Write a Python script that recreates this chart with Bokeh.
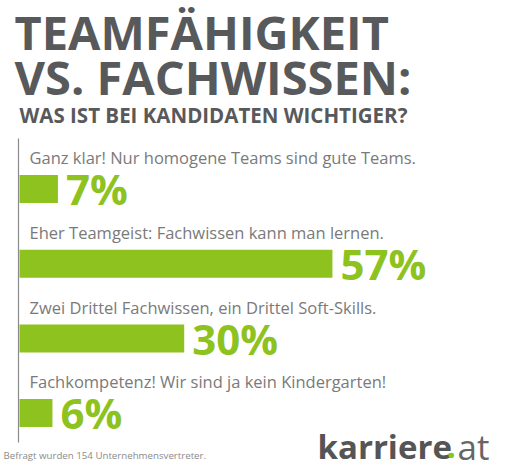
from bokeh.plotting import figure
from bokeh.models import Range1d, ColumnDataSource
from bokeh.core.properties import value
from bokeh.embed import file_html
from bokeh.resources import INLINE

# ---- data ----
answers = [
    "Ganz klar! Nur homogene Teams sind gute Teams.",
    "Eher Teamgeist: Fachwissen kann man lernen.",
    "Zwei Drittel Fachwissen, ein Drittel Soft-Skills.",
    "Fachkompetenz! Wir sind ja kein Kindergarten!",
]
shares = [7, 57, 30, 6]
title_lines = ["TEAMFÄHIGKEIT", "VS. FACHWISSEN:"]
subtitle = "WAS IST BEI KANDIDATEN WICHTIGER?"
footnote = "Befragt wurden 154 Unternehmensvertreter."

# ---- layout ----
W, H = 512, 475
X0 = 19.0          # pixel where 0 % sits
PX_PER_PCT = 5.49  # pixels per percent
K = 0.35           # baseline correction (fraction of font size)


def xd(px):
    return (px - X0) / PX_PER_PCT


def yb(baseline, size):
    return baseline - K * size


GREEN = "#8dc21f"
DARK = "#58595b"
LIGHT = "#7a7a7a"
FONT = value("Open Sans")

p = figure(width=W, height=H, output_backend="svg", toolbar_location=None,
           x_range=Range1d(xd(0), xd(W)), y_range=Range1d(H, 0),
           min_border=0, outline_line_color=None)
p.axis.visible = False
p.grid.visible = False
p.background_fill_color = "white"
p.border_fill_color = "white"

n = len(shares)
centers = [188.5 + 74.7 * i for i in range(n)]
LS, PS = 16.5, 42
label_y = [yb(c - 25.5, LS) for c in centers]
pct_y = [yb(c + 14.5, PS) for c in centers]

src = ColumnDataSource(dict(
    y=centers, v=shares, ly=label_y, py=pct_y,
    label=answers, pct=[f"{s}%" for s in shares],
    lx=[xd(29)] * n,
    px=[s + xd(X0 + 8) for s in shares],
))

# vertical baseline
p.segment(x0=[xd(18)], y0=[138], x1=[xd(18)], y1=[442],
          line_color="#8a8a8a", line_width=1.2)

p.hbar(y="y", left=0, right="v", height=28, source=src,
       fill_color=GREEN, line_color=None)

p.text(x="lx", y="ly", text="label", source=src, text_font=FONT,
       text_font_size=f"{LS}px", text_color=LIGHT, text_baseline="alphabetic")
p.text(x="px", y="py", text="pct", source=src, text_font=FONT,
       text_font_style="bold", text_font_size=f"{PS}px", text_color=GREEN,
       text_baseline="alphabetic")

# titles
TS = 47
p.text(x=[xd(14), xd(14)], y=[yb(48, TS), yb(93, TS)], text=title_lines,
       text_font=FONT, text_font_style="bold", text_font_size=f"{TS}px",
       text_color=DARK, text_baseline="alphabetic")
SS = 20.5
p.text(x=[xd(19)], y=[yb(122, SS)], text=[subtitle], text_font=FONT,
       text_font_style="bold", text_font_size=f"{SS}px", text_color=DARK,
       text_baseline="alphabetic")

# footnote
FS = 9.7
p.text(x=[xd(3)], y=[yb(458, FS)], text=[footnote], text_font=FONT,
       text_font_size=f"{FS}px", text_color="#8a8a8a", text_baseline="alphabetic")

# logo
LG = 33
p.text(x=[xd(317)], y=[yb(458, LG)], text=["karriere"], text_font=FONT,
       text_font_style="bold", text_font_size=f"{LG}px", text_color="#555555",
       text_baseline="alphabetic")
p.text(x=[xd(446)], y=[yb(458, LG)], text=["."], text_font=FONT,
       text_font_style="bold", text_font_size=f"{LG}px", text_color=GREEN,
       text_baseline="alphabetic")
p.text(x=[xd(457)], y=[yb(458, LG)], text=["at"], text_font=FONT,
       text_font_size="35px", text_color="#666666",
       text_baseline="alphabetic")

open("out.html", "w").write(file_html(p, INLINE))
